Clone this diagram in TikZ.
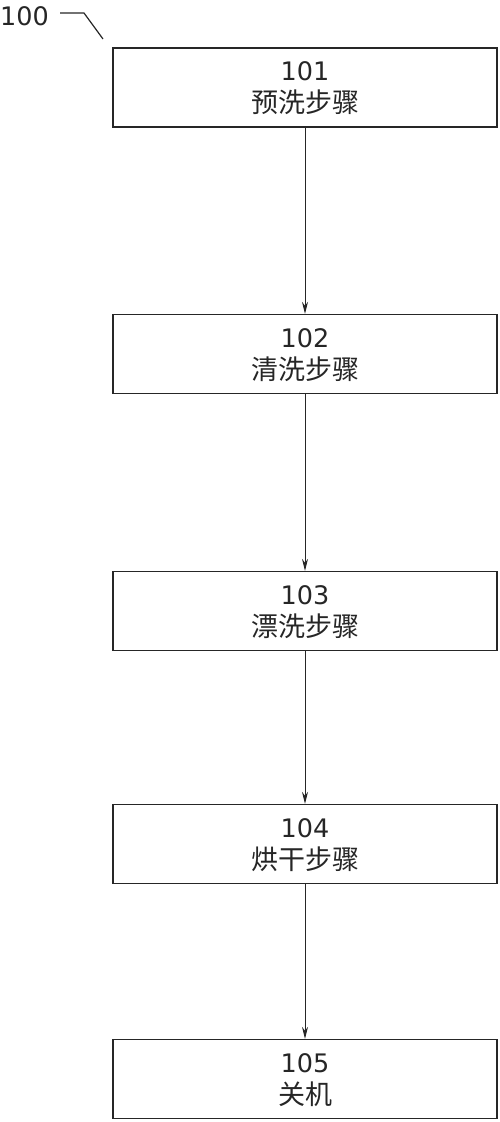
\documentclass[tikz,border=0pt]{standalone}
\usepackage{fontspec}
\setmainfont{DejaVu Sans}
\newfontfamily\cjk{Noto Sans CJK SC}
\usetikzlibrary{arrows.meta}
\begin{document}
\begin{tikzpicture}[x=1pt,y=-1pt,
  stepbox/.style={draw=black!85,line width=1.3pt,minimum width=384pt,minimum height=79pt,inner sep=0pt},
  numtxt/.style={font=\fontsize{25.5}{25.5}\selectfont,text=black!85},
  cntxt/.style={font=\cjk\fontsize{27}{27}\selectfont,text=black!85},
  flow/.style={draw=black!85,line width=1pt,-{Stealth[length=12pt,width=6pt]}}]
\useasboundingbox (0,0) rectangle (500,1122);
\foreach \n/\y/\t in {1/87.5/预洗步骤,2/354/清洗步骤,3/611/漂洗步骤,4/844/烘干步骤,5/1079/关机}{
  \node[stepbox] (b\n) at (305,\y) {};
  \node[numtxt] (n\n) at (305,\y-16) {10\n};
  \node[cntxt] (c\n) at (305,\y+15) {\t};
}
\draw[flow] (b1.south) -- (b2.north);
\draw[flow] (b2.south) -- (b3.north);
\draw[flow] (b3.south) -- (b4.north);
\draw[flow] (b4.south) -- (b5.north);
\node[numtxt,anchor=west,inner sep=0pt] (lab) at (0,16) {100};
\coordinate (l1) at (60,13);
\coordinate (l2) at (84,13);
\coordinate (l3) at (103,39);
\draw[draw=black!85,line width=1.2pt] (l1) -- (l2) -- (l3);
\end{tikzpicture}
\end{document}
